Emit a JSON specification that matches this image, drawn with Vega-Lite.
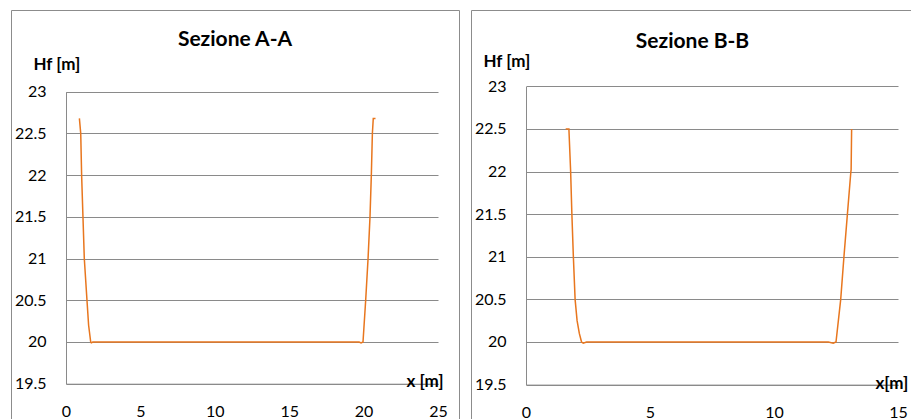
{
  "$schema": "https://vega.github.io/schema/vega-lite/v6.json",
  "padding": {"left": 10, "top": 9, "right": 0, "bottom": 0},
  "background": "white",
  "spacing": 10,
  "config": {
    "font": "Lato",
    "view": {"stroke": "#8c8c8c", "strokeWidth": 1},
    "axis": {
      "labelFont": "Lato", "labelFontSize": 16, "labelColor": "black",
      "titleFont": "Lato", "titleFontSize": 17, "titleFontWeight": "bold", "titleColor": "black",
      "ticks": false, "tickSize": 0,
      "domainColor": "#8a8a8a", "domainWidth": 1,
      "gridColor": "#8a8a8a", "gridWidth": 1, "gridOpacity": 1,
      "labelPadding": 20, "labelFlush": false
    }
  },
  "hconcat": [
    {
      "width": 448, "height": 410,
      "title": {"text": "Sezione A-A", "fontSize": 21, "fontWeight": "bold", "font": "Lato", "color": "black", "anchor": "middle", "frame": "group", "baseline": "middle", "offset": -51},
      "data": {"values": [
        {"x": 0.90, "y": 22.68}, {"x": 0.99, "y": 22.5}, {"x": 1.05, "y": 22.0}, {"x": 1.14, "y": 21.5},
        {"x": 1.23, "y": 21.0}, {"x": 1.41, "y": 20.5}, {"x": 1.52, "y": 20.2}, {"x": 1.66, "y": 20.0},
        {"x": 1.70, "y": 19.99}, {"x": 1.80, "y": 20.0}, {"x": 19.70, "y": 20.0}, {"x": 19.83, "y": 19.99},
        {"x": 19.96, "y": 20.0}, {"x": 20.14, "y": 20.5}, {"x": 20.30, "y": 21.0}, {"x": 20.43, "y": 21.5},
        {"x": 20.52, "y": 22.0}, {"x": 20.59, "y": 22.5}, {"x": 20.65, "y": 22.68}, {"x": 20.80, "y": 22.68}
      ]},
      "mark": {"type": "line", "color": "#E8761E", "strokeWidth": 1.5},
      "encoding": {
        "x": {"field": "x", "type": "quantitative",
          "scale": {"domain": [0, 25], "range": [55, 427], "nice": false, "zero": false},
          "axis": {"values": [0, 5, 10, 15, 20, 25], "offset": -36.3, "grid": false, "labelPadding": 19.5,
            "title": "x [m]", "titleX": 395, "titleY": -2, "titleAlign": "left", "titleBaseline": "middle", "titleAngle": 0}},
        "y": {"field": "y", "type": "quantitative",
          "scale": {"domain": [19.5, 23], "range": [373.7, 81.7], "nice": false, "zero": false},
          "axis": {"values": [19.5, 20, 20.5, 21, 21.5, 22, 22.5, 23], "format": ".4~g", "offset": -55, "grid": true,
            "title": "Hf [m]", "titleAngle": 0, "titleX": -33, "titleY": 54, "titleAlign": "left", "titleBaseline": "middle"}}
      }
    },
    {
      "width": 443, "height": 410,
      "title": {"text": "Sezione B-B", "fontSize": 21, "fontWeight": "bold", "font": "Lato", "color": "black", "anchor": "middle", "frame": "group", "baseline": "middle", "offset": -53},
      "data": {"values": [
        {"x": 1.60, "y": 22.5}, {"x": 1.73, "y": 22.5}, {"x": 1.80, "y": 22.0}, {"x": 1.85, "y": 21.5},
        {"x": 1.91, "y": 21.0}, {"x": 1.98, "y": 20.5}, {"x": 2.06, "y": 20.25}, {"x": 2.15, "y": 20.1},
        {"x": 2.24, "y": 20.0}, {"x": 2.31, "y": 19.985}, {"x": 2.44, "y": 20.0}, {"x": 12.19, "y": 20.0},
        {"x": 12.39, "y": 19.985}, {"x": 12.50, "y": 20.0}, {"x": 12.69, "y": 20.5}, {"x": 12.82, "y": 21.0},
        {"x": 12.96, "y": 21.5}, {"x": 13.10, "y": 22.0}, {"x": 13.11, "y": 22.02}, {"x": 13.13, "y": 22.5}
      ]},
      "mark": {"type": "line", "color": "#E8761E", "strokeWidth": 1.5},
      "encoding": {
        "x": {"field": "x", "type": "quantitative",
          "scale": {"domain": [0, 15], "range": [55, 427], "nice": false, "zero": false},
          "axis": {"values": [0, 5, 10, 15], "offset": -35.4, "grid": false, "labelPadding": 19.5,
            "title": "x[m]", "titleX": 404, "titleY": -1, "titleAlign": "left", "titleBaseline": "middle", "titleAngle": 0}},
        "y": {"field": "y", "type": "quantitative",
          "scale": {"domain": [19.5, 23], "range": [374.6, 76.3], "nice": false, "zero": false},
          "axis": {"values": [19.5, 20, 20.5, 21, 21.5, 22, 22.5, 23], "format": ".4~g", "offset": -55, "grid": true,
            "title": "Hf [m]", "titleAngle": 0, "titleX": -43, "titleY": 51, "titleAlign": "left", "titleBaseline": "middle"}}
      }
    }
  ]
}
